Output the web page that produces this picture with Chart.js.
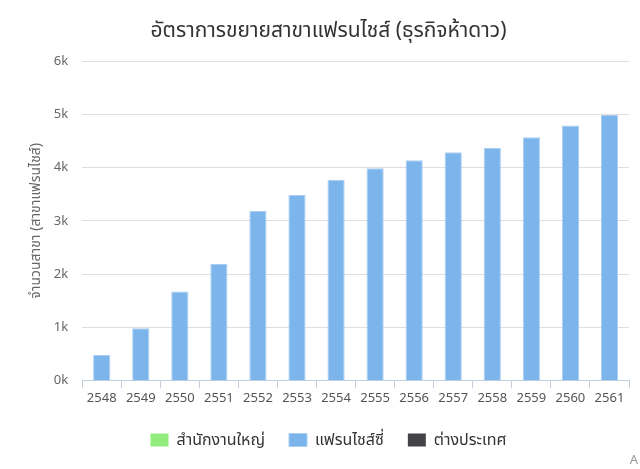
<!DOCTYPE html>
<html>
<head>
<meta charset="utf-8">
<script src="https://cdn.jsdelivr.net/npm/chart.js@4"></script>
<style>
  html, body { margin: 0; padding: 0; background: #fff; }
  #wrap { position: relative; width: 640px; height: 469px; }
  #credit { position: absolute; right: 2px; bottom: 1px; font: 13px "Noto Sans", sans-serif; color: #999; }
</style>
</head>
<body>
<div id="wrap">
  <canvas id="branchChart" width="640" height="469"></canvas>
  <div id="credit">A</div>
</div>
<script>
const years = ["2548", "2549", "2550", "2551", "2552", "2553", "2554", "2555", "2556", "2557", "2558", "2559", "2560", "2561"];
const headOffice = [];
const franchisee = [480, 980, 1670, 2190, 3190, 3490, 3770, 3990, 4140, 4290, 4370, 4570, 4790, 4990];
const overseas = [];

const font = "'Noto Sans', 'Noto Sans Thai', sans-serif";

const ctx = document.getElementById("branchChart").getContext("2d");
let branchChart = new Chart(ctx, {
    type: "bar",
    data: {
        labels: years,
        datasets: [
            { label: "สำนักงานใหญ่", data: headOffice, backgroundColor: "#90ed7d", borderColor: "#90ed7d" },
            { label: "แฟรนไชส์ซี่", data: franchisee, backgroundColor: "#7cb5ec", borderColor: "#a9cef2", borderWidth: 1 },
            { label: "ต่างประเทศ", data: overseas, backgroundColor: "#434348", borderColor: "#434348" },
        ],
    },
    options: {
        responsive: false,
        animation: false,
        layout: { padding: { left: 28, right: 11, top: 0, bottom: 11 } },
        datasets: { bar: { grouped: false, categoryPercentage: 1, barPercentage: 0.44 } },
        plugins: {
            title: {
                display: true,
                text: "อัตราการขยายสาขาแฟรนไชส์ (ธุรกิจห้าดาว)",
                color: "#333",
                font: { family: font, size: 21, weight: "normal" },
                padding: { top: 18, bottom: 18 },
            },
            legend: {
                position: "bottom",
                labels: {
                    color: "#333",
                    boxWidth: 18,
                    boxHeight: 13,
                    padding: 24,
                    font: { family: font, size: 16 },
                },
            },
            tooltip: { enabled: false },
        },
        scales: {
            x: {
                grid: {
                    display: true,
                    drawOnChartArea: false,
                    drawTicks: true,
                    offset: true,
                    tickLength: 8,
                    color: "#c0d0e0",
                },
                border: { color: "#c0d0e0" },
                ticks: { color: "#555", font: { family: font, size: 13 }, padding: 2, maxRotation: 0 },
            },
            y: {
                min: 0,
                max: 6000,
                ticks: {
                    stepSize: 1000,
                    color: "#666",
                    font: { family: font, size: 13 },
                    padding: 14,
                    callback: (v) => v / 1000 + "k",
                },
                grid: { color: "#dedede", drawTicks: false },
                border: { display: false },
                title: {
                    display: true,
                    text: "จำนวนสาขา (สาขาแฟรนไชส์)",
                    color: "#666",
                    font: { family: font, size: 14 },
                    padding: { top: 0, bottom: -5 },
                },
            },
        },
    },
});
</script>
</body>
</html>
